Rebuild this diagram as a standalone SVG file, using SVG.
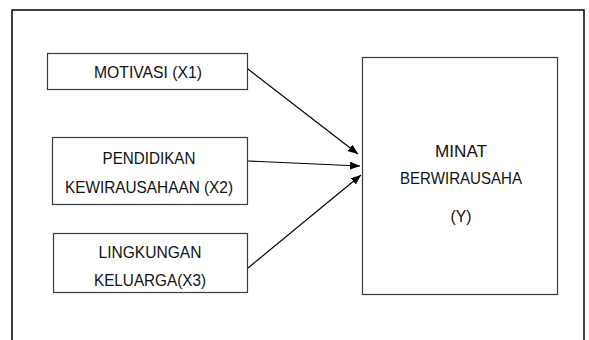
<svg xmlns="http://www.w3.org/2000/svg" width="589" height="340" viewBox="0 0 589 340">
<style>
.box{fill:#fff;stroke:#3a3a3a;stroke-width:1.2}
.t{font-family:"Liberation Sans",Arial,sans-serif;font-size:17px;fill:#111;text-anchor:middle}
.c{stroke:#000;stroke-width:1.2;fill:none;marker-end:url(#ah)}
</style>
<defs>
<marker id="ah" viewBox="0 0 10 8" refX="10" refY="4" markerWidth="10" markerHeight="8" markerUnits="userSpaceOnUse" orient="auto">
<path d="M0,0 L10,4 L0,8 Z" fill="#000"/>
</marker>
</defs>
<rect x="0" y="0" width="589" height="340" fill="#fff"/>
<path d="M12,345 V10 H584 V345" fill="none" stroke="#000" stroke-width="1.5"/>
<g id="n1">
<rect class="box" x="47.5" y="53.5" width="200" height="36"/>
<text class="t" x="148" y="78" textLength="108" lengthAdjust="spacingAndGlyphs">MOTIVASI (X1)</text>
</g>
<g id="n2">
<rect class="box" x="52.5" y="137.5" width="195" height="67"/>
<text class="t" x="149" y="164" textLength="93" lengthAdjust="spacingAndGlyphs">PENDIDIKAN</text>
<text class="t" x="149" y="193" textLength="168" lengthAdjust="spacingAndGlyphs">KEWIRAUSAHAAN (X2)</text>
</g>
<g id="n3">
<rect class="box" x="53.5" y="233.5" width="194" height="59"/>
<text class="t" x="150" y="258" textLength="103" lengthAdjust="spacingAndGlyphs">LINGKUNGAN</text>
<text class="t" x="150" y="286" textLength="112" lengthAdjust="spacingAndGlyphs">KELUARGA(X3)</text>
</g>
<g id="ny">
<rect class="box" x="362.5" y="57.5" width="195" height="237"/>
<text class="t" x="461" y="157" textLength="52" lengthAdjust="spacingAndGlyphs">MINAT</text>
<text class="t" x="461" y="184" textLength="122" lengthAdjust="spacingAndGlyphs">BERWIRAUSAHA</text>
<text class="t" x="461" y="222" textLength="21" lengthAdjust="spacingAndGlyphs">(Y)</text>
</g>
<g id="connectors">
<line class="c" x1="248" y1="69" x2="358" y2="154"/>
<line class="c" x1="248" y1="161" x2="360" y2="166"/>
<line class="c" x1="248" y1="268" x2="361" y2="175"/>
</g>
</svg>
